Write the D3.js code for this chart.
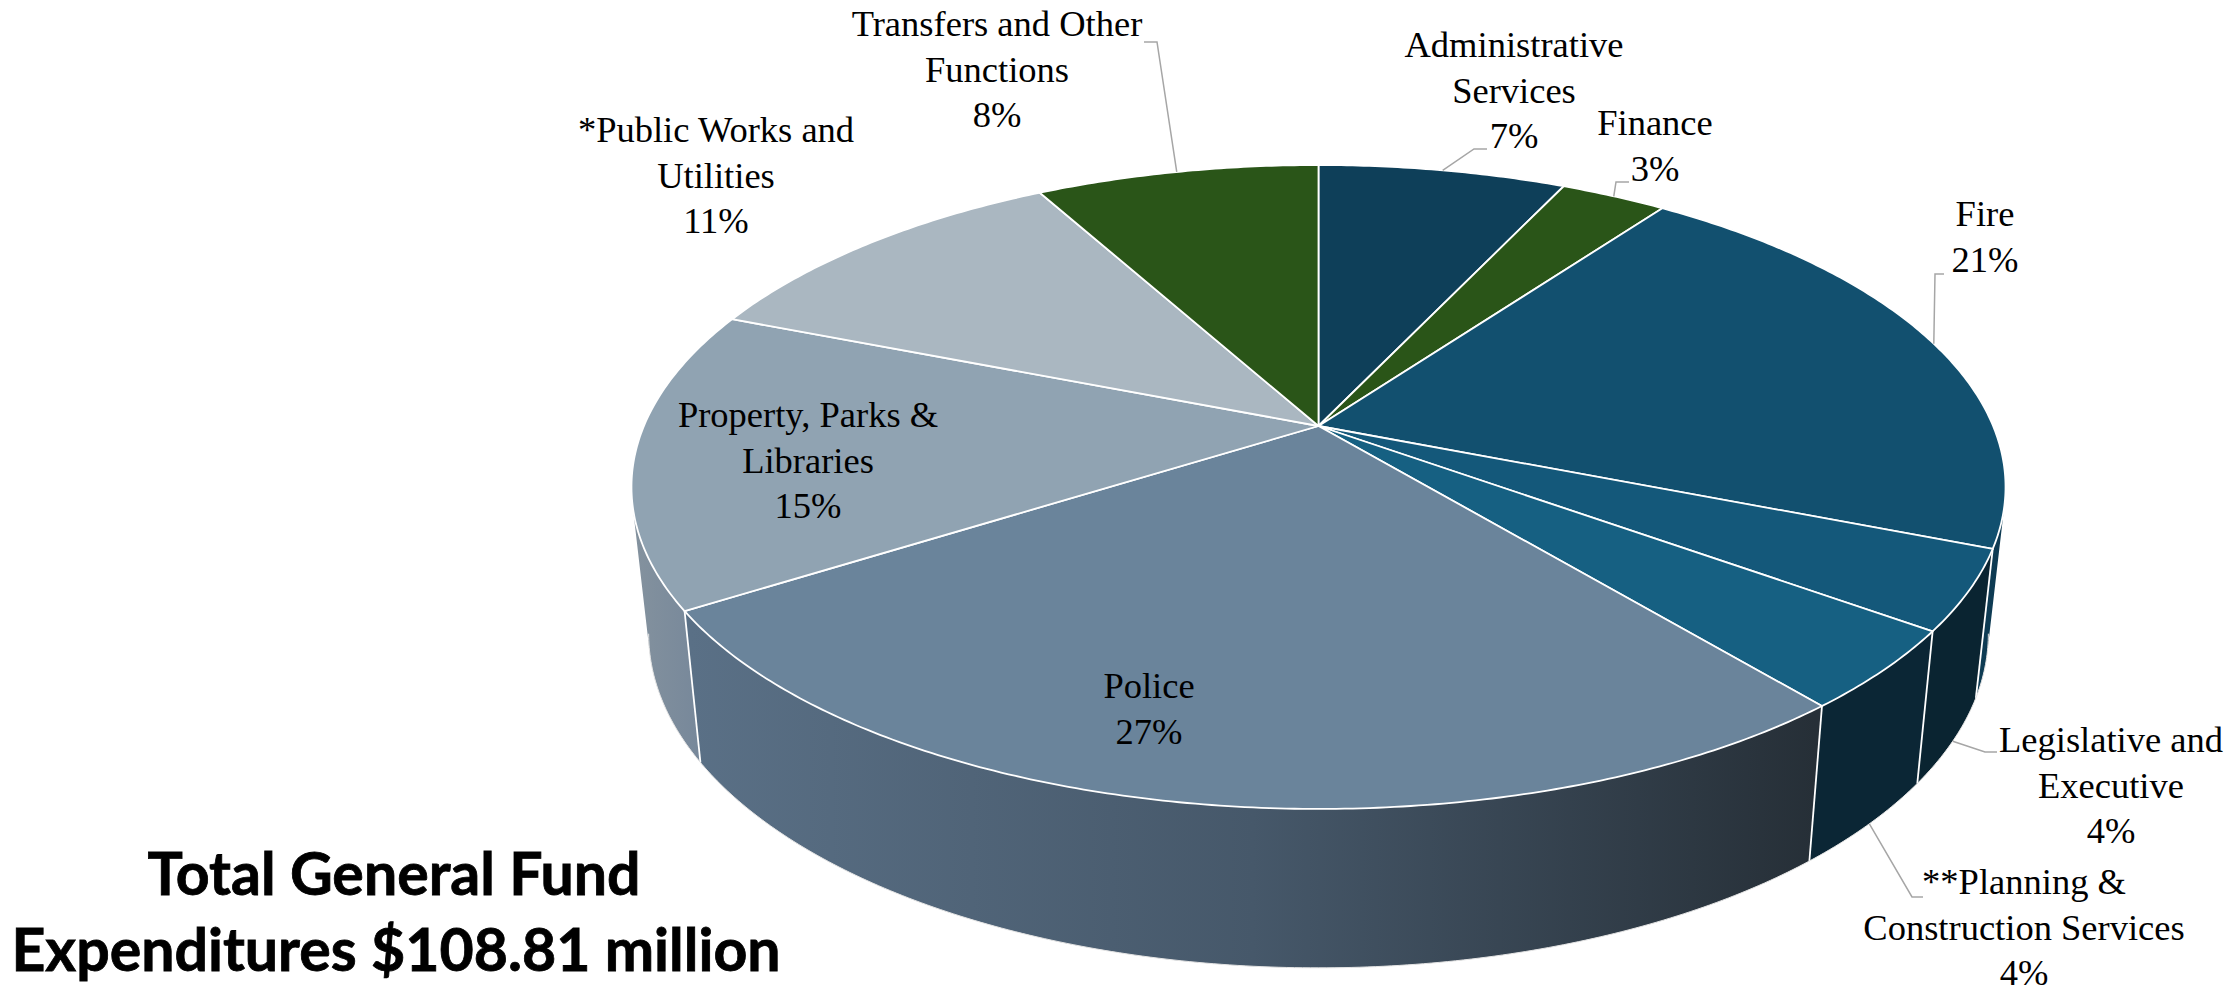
<!DOCTYPE html>
<html>
<head>
<meta charset="utf-8">
<script src="https://cdn.jsdelivr.net/npm/d3@7"></script>
<style>
  html, body { margin: 0; background: #fff; }
  svg { display: block; }
  .slice-label { font-family: "Liberation Serif", serif; font-size: 36.5px; fill: #000; text-anchor: middle; }
  .headline { font-family: Lato, sans-serif; font-weight: 700; font-size: 59px; fill: #000; stroke: #000; stroke-width: 0.8px; text-anchor: middle; }
</style>
</head>
<body>
<svg id="chart" width="2238" height="994"></svg>
<script>
// General Fund expenditure shares, clockwise from twelve o'clock
const sliceNames = [
  "Administrative Services", "Finance", "Fire", "Legislative and Executive",
  "**Planning & Construction Services", "Police", "Property, Parks & Libraries",
  "*Public Works and Utilities", "Transfers and Other Functions"
];
const sliceShares = [7, 3, 21, 4, 4, 27, 15, 11, 8];
const topColours = ["#0e3f59", "#2a5518", "#12506f", "#14587a", "#166082", "#6a849b", "#90a3b2", "#aab7c1", "#2a5518"];
const wallColours = ["#0b3044", "#1f4012", "#0e3b53", "#0a2431", "#0b2635", "url(#policeWall)", "url(#propertyWall)", "#808a91", "#1f4012"];
const headlineLines = ["Total General Fund", "Expenditures $108.81 million"];

// Text layout: wrapped lines, centre x, first baseline
const labelLines = [
  ["Administrative", "Services", "7%"], ["Finance", "3%"], ["Fire", "21%"],
  ["Legislative and", "Executive", "4%"], ["**Planning &", "Construction Services", "4%"],
  ["Police", "27%"], ["Property, Parks &", "Libraries", "15%"],
  ["*Public Works and", "Utilities", "11%"], ["Transfers and Other", "Functions", "8%"]
];
const labelX = [1514, 1655, 1985, 2111, 2024, 1149, 808, 716, 997];
const labelY = [57, 135, 226, 752, 894, 698, 427, 142, 36];
// Leader elbows: label end, bend; null where the label sits on its slice
const leaderBends = [
  [[1487, 149], [1474, 149]], [[1629, 182], [1616, 182]], [[1944, 274], [1935, 274]],
  [[1997, 752], [1985, 752]], [[1923, 897], [1912, 897]],
  null, null, null,
  [[1144, 42], [1157, 42]]
];
const leaderOnWall = [false, false, false, true, true, false, false, false, false];

// Tilted-disc projection: the hub sits above the middle of the rim ellipse
const hub = [1318.5, 426];
const radiusX = 674.6, radiusY = 310.4, tilt = 0.1894;
const topRim = a => {
  const d = 1 + tilt * Math.cos(a);
  return [hub[0] + radiusX * Math.sin(a) / d, hub[1] - radiusY * Math.cos(a) / d];
};
// The lower rim is slightly narrower and its drop grows toward the viewer
const lowerRim = a => {
  const [x, y] = topRim(a);
  return [hub[0] + (x - hub[0]) * 0.975, y + 149 + (y - 548) * 0.038];
};
// Angles where the disc's outline turns from back to front
const frontStart = Math.acos(-tilt), frontEnd = 2 * Math.PI - frontStart;

const svg = d3.select("#chart");
const defs = svg.append("defs");
const addGradient = (id, x1, x2, stops) => {
  const g = defs.append("linearGradient").attr("id", id)
    .attr("gradientUnits", "userSpaceOnUse")
    .attr("x1", x1).attr("x2", x2).attr("y1", 0).attr("y2", 0);
  stops.forEach(([o, c]) => g.append("stop").attr("offset", o).attr("stop-color", c));
};
addGradient("policeWall", 690, 1815, [[0, "#5a7086"], [0.5, "#46586a"], [1, "#262f37"]]);
addGradient("propertyWall", 632, 705, [[0, "#84929e"], [1, "#76879a"]]);

const arcs = d3.pie().sort(null).value(d => d)(sliceShares).map((d, i) => ({
  ...d, index: i, mid: (d.startAngle + d.endAngle) / 2
}));
const path = d3.line();
const sweep = (a0, a1, step = 0.01) => d3.range(a0, a1, step).concat(a1);

// Each side wall is one path made of narrow strips wound the same way, so
// its outline follows the tangent between the two rims without seams
const wallPath = d => d3.pairs(sweep(d.startAngle, d.endAngle, 0.02)).map(([a, b]) => {
  const quad = [topRim(a), topRim(b), lowerRim(b), lowerRim(a)];
  if (d3.polygonArea(quad) < 0) quad.reverse();
  return path(quad) + "Z";
}).join("");
const wallOrder = [2, 3, 4, 6, 5];
svg.append("g").selectAll("path").data(wallOrder.map(i => arcs[i])).join("path")
  .attr("d", wallPath)
  .attr("fill", d => wallColours[d.index]);

// White seams down the walls and along the lower rim
const seams = svg.append("g").attr("fill", "none").attr("stroke", "#fff");
seams.selectAll("path").data(arcs.map(d => d.startAngle).filter(a => a > frontStart && a < frontEnd)).join("path")
  .attr("d", a => path([topRim(a), lowerRim(a)]))
  .attr("stroke-width", 1.8);
seams.append("path")
  .attr("d", path(sweep(frontStart, frontEnd).map(lowerRim)))
  .attr("stroke", "#e4e4e4").attr("stroke-width", 1);

svg.append("g").selectAll("path").data(arcs).join("path")
  .attr("d", d => path([hub].concat(sweep(d.startAngle, d.endAngle).map(topRim))) + "Z")
  .attr("fill", d => topColours[d.index])
  .attr("stroke", "#fff").attr("stroke-width", 1.8).attr("stroke-linejoin", "round");

// Leader lines run from the rim at each slice's middle angle to its label
svg.append("g").selectAll("path").data(arcs.filter(d => leaderBends[d.index])).join("path")
  .attr("d", d => {
    const anchor = (leaderOnWall[d.index] ? lowerRim : topRim)(d.mid);
    return path([...leaderBends[d.index], anchor]);
  })
  .attr("fill", "none").attr("stroke", "#a6a6a6").attr("stroke-width", 1.5);

const labels = svg.append("g").selectAll("text").data(arcs).join("text")
  .attr("class", "slice-label");
labels.selectAll("tspan").data(d => labelLines[d.index].map((t, k) => ({ t, k, i: d.index }))).join("tspan")
  .attr("x", d => labelX[d.i])
  .attr("y", d => labelY[d.i] + d.k * 45.6)
  .text(d => d.t);

svg.append("g").selectAll("text").data(headlineLines).join("text")
  .attr("class", "headline")
  .attr("x", (d, i) => i ? 396 : 394)
  .attr("y", (d, i) => i ? 971 : 895)
  .text(d => d);
</script>
</body>
</html>
